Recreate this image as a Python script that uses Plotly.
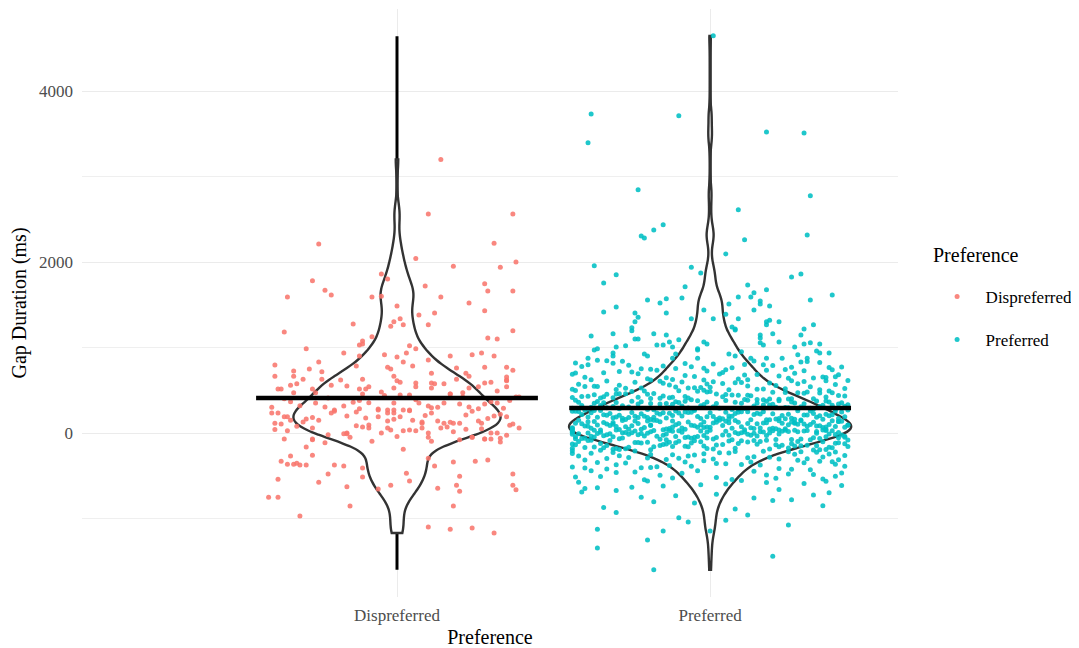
import numpy as np
import plotly.graph_objects as go

categories = ["Dispreferred", "Preferred"]
colors = ["#F8766D", "#00BFC4"]
mean_values = [410, 292]
range_low = [-1600, -1600]
range_high = [4640, 4640]
y_ticks = [0, 2000, 4000]
y_minor_ticks = [-1000, 1000, 3000]

# Dispreferred: gap durations (ms) and horizontal jitter (hundredths of a category)
dis_y = [
    3200, 2560, 2560, 2210, 2220, 2040, 1950, 1940, 2000,
    1780, 1670, 1615, 1590, 1860, 1800, 1590, 1600, 1720, 1590, 1745, 1660, 1660, 1520, 1430, 1485, 1380, 1405, 1335, 1300, 1250, 1265,
    1265, 1275, 1195, 1110, 1100, 1125, 1075, 1030, 1040, 1020, 985, 985, 935, 915, 935, 900, 915, 935, 900, 900, 890, 1180,
    795, 830, 830, 785, 770, 750, 785, 750, 725, 715,
    855, 700, 760, 700, 770, 770, 735, 665, 665, 630,
    630, 620, 630, 665, 610, 595, 585, 585, 575, 630,
    665, 595, 620, 655, 515, 515, 560, 470, 575, 515,
    470, 560, 550, 515, 515, 540, 455, 480, 525, 445,
    445, 540, 525, 575, 455, 470, 525, 540, 585, 490,
    610, 540, 420,
    365, 400, 350, 305, 270, 315, 360, 380, 355, 280,
    270, 350, 270, 270, 350, 315, 295, 350, 455, 340,
    305, 340, 365, 350, 290, 420, 300, 320, 410, 285,
    440, 390, 300, 420, 285, 380,
    235, 235, 190, 190, 150, 115, 105, 130, 165, 150,
    235, 255, 200, 175, 95, 270, 190, 235, 140, 270,
    235, 190, 260, 150, 130, 115, 235, 140, 115, 115,
    115, 210, 140, 115, 200, 190, 105, 60, 180, 245,
    160, 205, 125, 255, 170, 220,
    25, -70, 80, 60, -80, -10, 0, 70, 60, 0,
    60, 35, 25, 35, 25, 60, -50, 0, 60, 70,
    -80, -50, 50, -70, 0, 0, -25, 40, -20, 85,
    -40, 15, 45, -60, 90,
    -70, -165, -260, -115, -10, -50, -95, -190, -95, -50, -70, -105, -70,
    -270, -330, -365, -365, -355, -375, -375, -375, -385, -410,
    -295, -385, -340, -330, -315, -480, -480, -515, -470, -560,
    -505, -540, -575, -630, -655, -610, -645, -610, -680, -610,
    -665, -750, -750, -855, -855, -970, -1100, -1125, -1110, -1170,
]
dis_jitter = [
    14, 10, 37, -25, 31, 6, 18, 33, 38,
    -27, -23, -21, -35, -5, -3, -8, -5, 9, 14, 28, 29, 37, 23, 28, 0, 7, 12, 1, -1, -2, 2,
    10, -14, 37, 29, 32, -8, -11, -12, -11, 4, 6, -29, -17, -4, 3, 17, 24, 27, 31, -12, 0, -36,
    -39, -25, 2, 5, -3, -2, -13, -28, -33, -24,
    10, 11, 19, 22, 28, 35, 37, -39, -33, -30,
    -24, -18, -11, -1, 0, 1, 6, 11, 12, 19,
    23, 30, 35, 35, -38, -37, -34, -33, -32, -27,
    -26, -21, -16, -12, -10, -9, -11, -5, -1, 1,
    4, 6, 11, 15, 17, 21, 23, 26, 28, 32,
    35, 35, 39,
    -34, -36, -26, -23, -20, -17, -14, -12, -9, -6,
    -3, -1, 2, 4, 7, 10, 11, 15, 17, 20,
    23, 28, 30, 32, 34, 38, -40, -31, -22, -12,
    -4, 6, 13, 21, 26, 36,
    -40, -38, -36, -35, -34, -39, -37, -30, -29, -25,
    -21, -20, -16, -10, -9, -6, -6, -3, -3, -1,
    -1, 1, 4, 5, 8, 8, 11, 13, 15, 18,
    20, 22, 26, 27, 31, 35, 37, 39, -27, -13,
    -1, 9, 17, 24, 29, 33,
    -35, -36, -32, -27, -27, -17, -16, -11, -9, -5,
    -3, -2, 2, 4, 6, 8, 10, 10, 14, 16,
    20, 24, 27, 28, 30, 32, 35, -39, -22, -13,
    0, 18, 22, 33, 36,
    -27, -29, -27, -23, -16, -15, -8, 2, 11, 24, 30, 33, 28,
    -34, -37, -35, -33, -32, -31, -29, -20, -17, -11,
    10, 12, 18, 25, 29, 37, -22, -11, 3, 4,
    20, -38, -25, -16, -6, -2, 13, 19, 20, 37,
    38, -41, -38, -15, 18, -31, 10, 17, 24, 31,
]

# Preferred: gap durations (ms) and horizontal jitter (hundredths of a category)
pref_y = [
    4645, 3730, 3395, 3710, 3520, 3510, 2845, 2775, 2610, 2435, 2375, 2305, 2280, 2260, 2315, 2095, 1955, 1940,
    1870, 1850, 1755, 1710, 1730, 1825, 1860, 1615, 1675, 1640,
    1590, 1590, 1555, 1555, 1570, 1520, 1580, 1545, 1510, 1510,
    1485, 1475, 1415, 1405, 1405, 1440, 1440, 1355, 1335, 1335,
    1390, 1335, 1300, 1300, 1320, 1300, 1265, 1230, 1195, 1265,
    1215, 1240, 1215, 1205, 1135, 1160, 1160, 1145, 1160, 1145,
    1145, 1110, 1100, 1100, 1090, 1065, 1040, 1065, 1030, 1030,
    1065, 1040, 1055, 1055, 1030, 1005, 1020, 985, 970, 1005,
    985, 970, 1005, 1040, 935, 900, 875, 925, 900, 925,
    925, 950, 900, 915, 960, 935, 935, 875, 875, 875,
    875, 875, 875,
    778, 846, 752, 813, 740, 797, 829, 765, 851, 784,
    808, 744, 771, 839, 758, 802, 826, 747, 790, 819,
    762, 835, 755, 793, 843, 774, 741, 816, 768, 799,
    652, 714, 627, 690, 735, 643, 706, 661, 622, 698,
    681, 636, 725, 668, 702, 631, 656, 719, 646, 684,
    729, 624, 673, 709, 640, 694, 658, 733, 677, 620,
    688, 649,
    571, 509, 604, 533, 590, 518, 612, 548, 527, 596,
    507, 584, 541, 615, 523, 562, 599, 511, 577, 545,
    619, 530, 588, 556, 505, 608, 538, 579, 515, 566,
    593, 525, 550, 610, 513, 582, 536, 601, 559, 520,
    574, 543,
    497, 411, 463, 389, 445, 478, 402, 430, 486, 419,
    455, 393, 470, 438, 408, 492, 426, 449, 399, 481,
    415, 460, 434, 501, 391, 474, 421, 452, 405, 488,
    441, 396, 467, 428, 458, 413, 484, 436, 400, 472,
    447, 417, 494, 423, 388, 465, 432, 457, 407, 479,
    443, 398, 490, 425, 453, 410,
    384, 301, 352, 277, 340, 365, 290, 322, 371, 309,
    346, 283, 359, 331, 296, 378, 315, 343, 272, 363,
    326, 287, 350, 305, 381, 280, 336, 368, 298, 319,
    355, 274, 347, 311, 375, 293, 329, 361, 284, 338,
    306, 372, 279, 349, 317, 366, 289, 334, 357, 302,
    383, 276, 324, 344, 295, 370, 313, 353, 286, 340,
    308, 377, 282, 327, 362, 299, 345, 318, 373, 291,
    335, 356, 275, 321, 364,
    266, 158, 231, 190, 249, 172, 213, 262, 181, 240,
    200, 155, 227, 255, 186, 218, 169, 244, 206, 160,
    236, 195, 258, 176, 222, 153, 247, 209, 183, 264,
    229, 165, 202, 252, 174, 238, 192, 216, 161, 257,
    184, 225, 198, 243, 156, 211, 268, 179, 233, 194,
    250, 167, 220, 188, 241, 204, 159, 230, 260, 171,
    214, 197, 246, 163, 224, 185, 254, 208, 175, 237,
    154, 219, 201, 263, 182, 235, 166, 248, 212, 189,
    228, 157, 243, 196, 170, 256, 217, 180,
    150, 41, 118, 77, 139, 56, 97, 146, 63, 125,
    86, 38, 110, 132, 70, 101, 49, 128, 90, 44,
    121, 81, 143, 59, 107, 36, 135, 94, 67, 149,
    114, 52, 85, 141, 73, 104, 46, 130, 99, 62,
    119, 39, 88, 145, 68, 112, 54, 136, 79, 96,
    43, 126, 65, 148, 108, 57, 92, 138, 75, 117,
    47, 102, 131, 60, 84, 144, 71, 123, 50, 98,
    37, 115, 83, 140, 66, 129, 93, 55, 147, 105,
    74, 121, 45, 134, 89, 61, 111, 40, 127, 80,
    142, 69, 100, 53, 137, 87, 113, 64, 124, 95,
    33, -79, -12, 21, -55, 4, -30, 28, -66, -3,
    15, -44, 31, -20, -75, 9, -38, 24, -8, -60,
    1, -27, 18, -49, 35, -71, -16, 12, -35, 26,
    -58, -5, 20, -42, -81, 7, -24, 30, -63, -10,
    14, -47, 23, -32, -77, 2, -18, 29, -52, -1,
    17, -40, 34, -68, -14, 10, -29, 25, -56, -7,
    6, -37, 32, -73, -22, 13, -45, 27, -61, -11,
    19, -34, -2, -78, 8, -26, 22, -50, -15, 31,
    -65, 3, -39, 16, -54, -9, 28, -70, -19, 11,
    -43, -4, 24, -59, -25, 5, -48, 35, -13, -80,
    -85, -190, -120, -155, -98, -175, -140, -110, -195, -130,
    -90, -165, -148, -103, -185, -125, -160, -94, -170, -136,
    -115, -198, -145, -88, -180, -128, -152, -107, -168, -118,
    -192, -100, -158, -133, -84, -177, -142, -112, -188, -122,
    -162, -96, -173, -138, -105, -196, -150, -92, -182, -127,
    -157, -113, -166, -135, -87, -186, -146, -101, -171, -124,
    -153, -99, -179, -131, -117, -193, -161, -89, -143, -108,
    -203, -290, -245, -310, -220, -270, -232, -300, -210, -258,
    -285, -238, -312, -215, -265, -295, -226, -250, -305, -207,
    -278, -242, -298, -218, -262, -286, -235, -315, -212, -255,
    -280, -228, -303, -248, -292, -222, -268, -240,
    -320, -420, -360, -395, -335, -410, -375, -340, -430, -352,
    -388, -325, -405, -368, -345, -415, -380, -330, -398, -358,
    -425, -372, -338, -402, -365, -390, -348,
    -440, -530, -470, -505, -455, -545, -485, -515, -448, -495,
    -538, -462, -520, -478, -442, -510, -490, -548, -468, -525,
    -555, -640, -590, -620, -575, -660, -605, -565, -635, -595,
    -650, -580, -615, -560,
    -672, -760, -700, -735, -690, -780, -715, -750, -725,
    -790, -870, -820, -850, -805, -890,
    -930, -960, -990, -1020, -1040, -1075, -1125, -1145, -1145, -1250,
    -1345, -1440, -1600,
]
pref_jitter = [
    1, -38, -39, -10, 18, 30, -23, 32, 9, -15, -18, -22, -21, 11, 31, 5, -37, -6,
    -3, -30, -34, -8, 12, 26, 29, 39, 18, 14,
    13, 9, 32, -20, -14, -16, -9, 16, 16, 6,
    19, -30, -34, -24, -14, -2, 14, -23, -6, 1,
    5, 9, -24, 18, 19, 22, 18, -25, -25, 33,
    30, 7, 8, 8, -38, -31, -18, -14, 20, 29,
    16, 16, -24, -23, -10, -2, -1, -13, -17, -15,
    22, 30, 32, 16, 17, -30, -27, -36, -37, -12,
    -4, -4, 27, 35, -31, -31, -39, -21, -20, -11,
    6, 10, 8, 28, 34, 35, 38, 18, 13, 23,
    31, -4, -12,
    -41, -33, -22, -8, 5, 17, 29, 38, -36, -15,
    1, 24, 42, -28, -2, 11, 35, -19, 20, -43,
    7, 31, -11, -26, 14, -6, 39, -31, 26, -39,
    -40, -25, -12, 3, 18, 33, -34, -5, 12, 27,
    41, -20, -1, 22, -43, 9, 36, -29, -14, 15,
    30, -38, -8, 4, 25, -23, 40, -17, 11, -2,
    -44, 37,
    -42, -30, -16, -3, 10, 24, 37, -37, -22, -9,
    6, 19, 32, 44, -27, -13, 1, 15, 28, -40,
    -19, -5, 8, 21, 35, -33, -11, 4, 17, 40,
    -24, -7, 12, 26, -44, -15, 0, 30, -29, 43,
    -1, -36,
    -43, -31, -18, -6, 7, 20, 33, -39, -25, -12,
    2, 15, 28, 41, -35, -21, -8, 5, 19, 31,
    -44, -29, -15, -2, 11, 24, 37, -33, -19, -4,
    9, 22, 35, -41, -27, -13, 0, 13, 26, 39,
    -37, -23, -10, 4, 17, 30, 43, -30, -16, -1,
    12, 25, 38, -34, -20, -7,
    12, -38, 27, -5, 41, -22, 3, -41, 18, 35,
    -14, -29, 8, 44, -33, 22, -9, 30, -18, -1,
    39, -44, 15, -26, 5, 33, -12, -36, 24, -3,
    42, -20, 10, -31, 37, -7, 19, -42, 28, -16,
    1, -25, 40, -37, 14, -11, 32, -2, -30, 21,
    -43, 7, 36, -19, 25, -8, 43, -34, 11, -23,
    29, -4, -39, 17, 38, -13, 2, -28, 34, -44,
    20, -10, 9, -35, 26,
    -40, -27, -13, -1, 12, 26, 39, -35, -20, -7,
    6, 19, 33, -44, -30, -16, -3, 9, 23, 36,
    -38, -24, -11, 3, 16, 29, 42, -33, -18, -5,
    8, 21, 35, -42, -28, -15, 1, 14, 27, 40,
    -36, -22, -9, 5, 18, 31, 44, -31, -17, -4,
    10, 24, 37, -39, -25, -12, 2, 15, 28, 41,
    -34, -21, -8, 6, 20, 34, -43, -29, -14, 0,
    13, 25, 38, -37, -23, -10, 4, 17, 30, 43,
    -32, -19, -6, 7, 22, 32, -41, -26,
    3, -29, 17, 40, -12, -38, 25, 8, -21, 33,
    -5, -44, 12, -16, 37, -31, 21, -2, 44, -26,
    6, -40, 29, -9, 15, -35, 41, -19, 0, -42,
    23, -13, 35, -24, 10, -33, 19, -7, 38, -44,
    27, -15, 4, -28, 43, -10, 14, -37, 31, -3,
    -22, 9, 36, -18, -41, 20, -6, 42, -30, 1,
    -14, 28, -39, 16, -25, 39, -1, -34, 24, -11,
    11, -43, 34, -20, -4, 26, -36, 7, -17, 30,
    -27, 18, -8, 41, -32, 13, -23, 37, 2, -39,
    22, -12, 32, -44, 5, -19, 27, -2, -31, 44,
    -37, -14, 22, 5, 41, -28, -2, 31, -43, 14,
    -19, 37, 0, -33, 26, -9, 43, -24, 9, -40,
    19, -15, 34, -5, -30, 29, -44, 11, -21, 39,
    -1, -36, 23, -11, 44, -27, 4, -18, 35, -42,
    16, -7, 30, -34, 21, -25, 40, -13, 2, -39,
    25, -4, 36, -29, 12, -44, 18, -10, 33, -22,
    8, -38, 27, -16, 42, -1, -31, 20, -6, 38,
    -44, 15, -20, 32, -35, 6, -12, 43, -26, 24,
    -41, 10, -17, 28, -8, -32, 37, 1, -23, 17,
    -43, 34, -3, -28, 13, 41, -37, 22, -14, 7,
    18, -31, 40, -8, -42, 25, 2, -23, 35, -14,
    10, -37, 29, -3, -27, 43, -18, 6, -40, 21,
    -11, 33, -33, 14, -1, -44, 27, -20, 38, -6,
    -29, 16, 44, -15, -38, 8, 31, -24, 1, -35,
    22, -10, 39, -43, 12, -19, 34, -5, -30, 26,
    -12, 41, -26, 4, -39, 19, -16, 36, -34, 9,
    -2, 28, -44, 15, -22, 37, -7, -32, 23, -13,
    -35, 12, 38, -14, 25, -42, 3, 31, -24, -5,
    19, -38, 41, 8, -29, -10, 34, -19, 22, -44,
    14, -2, -33, 29, 43, -26, 6, -40, 17, -12,
    36, -31, 1, 27, -20, 40, -7, -44,
    28, -33, 5, -17, 39, -40, 16, -8, 32, -27,
    43, -2, -22, 10, -36, 22, -13, 35, -44, 2,
    26, -30, 13, -19, 40, -6, 30,
    -38, 21, -9, 40, -24, 7, 33, -43, 14, -16,
    36, -30, 2, 25, -4, -35, 18, -21, 42, -12,
    10, -36, 30, -15, -42, 22, -3, 37, -25, 5,
    -40, 18, 42, -20,
    -30, 14, 38, -11, -41, 26, 2, -22, 33,
    20, -34, -5, 36, -18, 8,
    -30, 12, -10, 5, -7, 25, -36, -15, 0, -20,
    -36, 20, -18,
]

groups = [(dis_y, dis_jitter), (pref_y, pref_jitter)]


def nrd0(values):
    v = np.asarray(values, dtype=float)
    sd = v.std(ddof=1)
    q75, q25 = np.percentile(v, [75, 25])
    lo = min(sd, (q75 - q25) / 1.34)
    return 0.9 * lo * len(v) ** (-0.2)


FONT = "Liberation Serif"
positions = [1, 2]
violin_widths = [0.66, 0.9]

fig = go.Figure()

# range lines (drawn beneath the white violins)
fig.add_trace(go.Bar(
    x=positions,
    y=[h - l for h, l in zip(range_high, range_low)],
    base=range_low,
    width=0.0095,
    marker=dict(color="black", line=dict(width=0)),
    showlegend=False, hoverinfo="skip",
))

for pos, (vals, jit), w in zip(positions, groups, violin_widths):
    fig.add_trace(go.Violin(
        x0=pos, y=vals, width=w, scalemode="width", spanmode="hard",
        bandwidth=nrd0(vals), side="both", points=False,
        line=dict(color="#333333", width=2.4), fillcolor="white",
        showlegend=False, hoverinfo="skip",
    ))

for cat, col, pos, (vals, jit) in zip(categories, colors, positions, groups):
    n = min(len(vals), len(jit))
    fig.add_trace(go.Scatter(
        x=[pos + j / 100 for j in jit[:n]], y=vals[:n], mode="markers",
        marker=dict(color=col, size=5, opacity=0.88),
        name=cat, legendgroup=cat, showlegend=True, hoverinfo="skip",
    ))

for pos, m in zip(positions, mean_values):
    fig.add_trace(go.Scatter(
        x=[pos - 0.45, pos + 0.45], y=[m, m], mode="lines",
        line=dict(color="black", width=4.5),
        showlegend=False, hoverinfo="skip",
    ))

fig.update_layout(
    width=1071, height=640,
    margin=dict(l=74, r=181, t=1, b=51),
    paper_bgcolor="white", plot_bgcolor="white",
    font=dict(family=FONT, color="black"),
    violinmode="overlay",
    showlegend=True,
    legend=dict(
        x=1.0375, y=0.541, xanchor="left", yanchor="top",
        font=dict(size=17, family=FONT, color="black"),
        tracegroupgap=18, itemwidth=47, bgcolor="rgba(0,0,0,0)", borderwidth=0,
    ),
    annotations=[dict(
        text="Preference", xref="paper", yref="paper", x=1.0404, y=0.5816,
        xanchor="left", yanchor="middle", showarrow=False,
        font=dict(size=20, family=FONT, color="black"),
    )],
    xaxis=dict(
        range=[-0.006, 2.6], tickvals=positions, ticktext=categories,
        showgrid=True, gridcolor="#EBEBEB", gridwidth=1.1,
        zeroline=False, showline=False, ticks="",
        tickfont=dict(size=17, color="#4D4D4D", family=FONT),
        ticklabelstandoff=6,
        title=dict(text="Preference", font=dict(size=20, color="black", family=FONT), standoff=5),
        automargin=False,
    ),
    yaxis=dict(
        range=[-1918, 4959], tickvals=y_ticks, ticktext=[str(t) for t in y_ticks],
        showgrid=True, gridcolor="#EBEBEB", gridwidth=1.1,
        minor=dict(tickvals=y_minor_ticks, showgrid=True, gridcolor="#EFEFEF", gridwidth=0.7),
        zeroline=False, showline=False, ticks="",
        tickfont=dict(size=17, color="#4D4D4D", family=FONT),
        ticklabelstandoff=8,
        title=dict(text="Gap Duration (ms)", font=dict(size=20, color="black", family=FONT), standoff=8),
        automargin=False,
    ),
)

fig.write_html("out.html")
